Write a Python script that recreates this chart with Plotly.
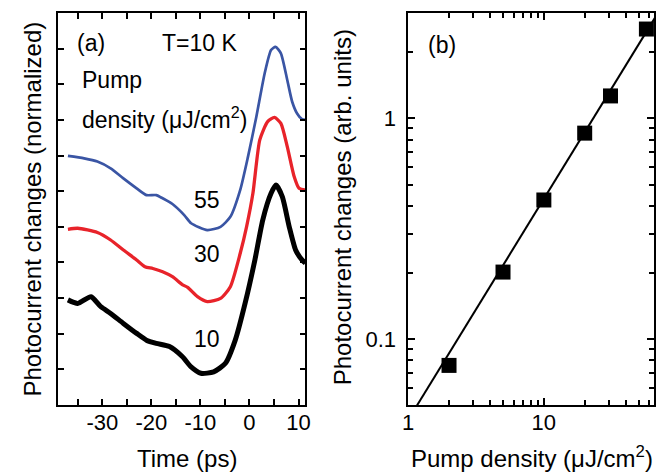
import plotly.graph_objects as go

# ---------------- data: panel (a) ----------------
t_blue = [-37, -33.7, -31, -28.3, -25.7, -23, -21, -19, -17.7, -15.7, -13.3, -11.9, -8.6, -5.9, -3.9,
          -1.9, -0.3, 1.4, 3.1, 4.4, 5.3, 6.4, 7.7, 8.7, 9.7, 10.7, 11.4]
y_blue = [6.99, 6.92, 6.83, 6.64, 6.36, 6.08, 5.89, 5.89, 5.80, 5.64, 5.33, 5.10, 4.91, 5.00, 5.28,
          6.03, 6.97, 8.09, 9.31, 9.96, 10.05, 9.87, 9.12, 8.51, 8.18, 8.02, 8.00]

t_red = [-37, -35, -31, -28.3, -25.7, -23, -21.3, -19.7, -17.7, -15.7, -13.7, -12.6, -10.6, -8.6, -5.9,
         -3.9, -1.9, -0.6, 0.7, 2.1, 3.7, 5.1, 6.4, 7.7, 9.1, 10.1, 11.4]
y_red = [4.93, 4.96, 4.84, 4.63, 4.35, 4.07, 3.88, 3.83, 3.74, 3.60, 3.38, 3.30, 3.04, 2.90, 2.99,
         3.32, 4.25, 5.00, 5.94, 7.44, 7.95, 8.07, 7.90, 7.25, 6.41, 6.08, 6.03]

t_black = [-37, -35, -32.3, -30.3, -28.3, -25.7, -23, -21, -19, -16.3, -13.7, -11.9, -9.9, -7.3, -4.9,
           -2.9, -0.9, 1.1, 2.7, 4.4, 5.4, 6.7, 8.1, 9.4, 10.7, 11.4]
y_black = [2.95, 2.85, 3.04, 2.76, 2.57, 2.29, 2.01, 1.82, 1.73, 1.64, 1.36, 1.07, 0.89, 0.93, 1.17,
           1.82, 2.85, 4.07, 5.19, 5.94, 6.17, 5.84, 5.00, 4.35, 4.07, 3.98]

labels_a = ["55", "30", "10"]
label_pos_t = [-8.7, -8.7, -8.7]
label_pos_y = [5.75, 4.24, 1.85]

time_ticks = [-30, -20, -10, 0, 10]
time_minor = [-35, -25, -15, -5, 5]

# ---------------- data: panel (b) ----------------
pump_density = [2, 5, 10, 20, 31, 57]
photocurrent = [0.076, 0.201, 0.426, 0.855, 1.26, 2.53]
fit_x = [1.0, 70.0]
fit_y = [0.0431, 3.02]

FONT = "Liberation Sans, Arial, Helvetica, sans-serif"

fig = go.Figure()

fig.add_trace(go.Scatter(x=t_black, y=y_black, mode="lines",
                         line=dict(color="black", width=5, shape="spline", smoothing=0.6),
                         xaxis="x", yaxis="y", showlegend=False))
fig.add_trace(go.Scatter(x=t_red, y=y_red, mode="lines",
                         line=dict(color="#e8232a", width=3.3, shape="spline", smoothing=0.6),
                         xaxis="x", yaxis="y", showlegend=False))
fig.add_trace(go.Scatter(x=t_blue, y=y_blue, mode="lines",
                         line=dict(color="#3a55a4", width=2.7, shape="spline", smoothing=0.6),
                         xaxis="x", yaxis="y", showlegend=False))

fig.add_trace(go.Scatter(x=fit_x, y=fit_y, mode="lines",
                         line=dict(color="black", width=2),
                         xaxis="x2", yaxis="y2", showlegend=False))
fig.add_trace(go.Scatter(x=pump_density, y=photocurrent, mode="markers",
                         marker=dict(symbol="square", size=15, color="black"),
                         xaxis="x2", yaxis="y2", showlegend=False, cliponaxis=False))

W, H = 660, 472
axis_common = dict(showline=True, linecolor="black", linewidth=1.5, mirror="allticks",
                   ticks="inside", tickcolor="black", tickwidth=1.5, showgrid=False,
                   zeroline=False, tickfont=dict(family=FONT, size=22, color="black"))

fig.update_layout(
    width=W, height=H, margin=dict(l=0, r=0, t=0, b=0),
    paper_bgcolor="white", plot_bgcolor="white",
    font=dict(family=FONT, color="black"),
    xaxis=dict(domain=[53 / W, 304.5 / W], range=[-39, 11.4], tickvals=time_ticks,
               ticktext=[str(v) for v in time_ticks], ticklen=6,
               minor=dict(tickvals=time_minor, ticks="inside", ticklen=6, tickwidth=1.5,
                          tickcolor="black"),
               anchor="y", ticklabelstandoff=-3, **axis_common),
    yaxis=dict(domain=[(H - 405) / H, (H - 13) / H], range=[0, 11],
               tickvals=list(range(1, 11)), showticklabels=False, ticklen=6,
               anchor="x", **axis_common),
    xaxis2=dict(domain=[409 / W, 659 / W], type="log", range=[0, 1.812],
                tickvals=[1, 10], ticktext=["1", "10"], ticklen=7,
                minor=dict(tickvals=[2, 3, 4, 5, 6, 7, 8, 9, 20, 30, 40, 50, 60],
                           ticks="inside", ticklen=5, tickwidth=1.5, tickcolor="black"),
                anchor="y2", ticklabelstandoff=-3, **axis_common),
    yaxis2=dict(domain=[(H - 405) / H, (H - 13) / H], type="log", range=[-1.2984, 0.4757],
                tickvals=[0.1, 1], ticktext=["0.1", "1"], ticklen=7,
                minor=dict(tickvals=[0.05, 0.06, 0.07, 0.08, 0.09, 0.2, 0.3, 0.4, 0.5, 0.6,
                                     0.7, 0.8, 0.9, 2],
                           ticks="inside", ticklen=5, tickwidth=1.5, tickcolor="black"),
                anchor="x2", ticklabelstandoff=6, **axis_common),
)

ann_font = dict(family=FONT, size=23, color="black")
title_font = dict(family=FONT, size=24, color="black")
C = dict(xanchor="center", yanchor="middle", showarrow=False)
annotations = [
    dict(x=-32.2, y=10.16, xref="x", yref="y", text="(a)", font=ann_font, **C),
    dict(x=-10.2, y=10.16, xref="x", yref="y", text="T=10 K", font=ann_font, **C),
    dict(x=-34.6, y=9.12, xref="x", yref="y", text="Pump", font=ann_font,
         xanchor="left", yanchor="middle", showarrow=False),
    dict(x=-34.6, y=8.05, xref="x", yref="y", text="density (\u03bcJ/cm<sup>2</sup>)",
         font=ann_font, xanchor="left", yanchor="middle", showarrow=False),
    dict(x=443 / W, y=1 - 45 / H, xref="paper", yref="paper", text="(b)", font=ann_font, **C),
    # axis titles
    dict(x=184 / W, y=1 - 458 / H, xref="paper", yref="paper", text="Time (ps)",
         font=title_font, **C),
    dict(x=535 / W, y=1 - 457 / H, xref="paper", yref="paper",
         text="Pump density (\u03bcJ/cm<sup>2</sup>)", font=title_font, **C),
    dict(x=26 / W, y=1 - 209 / H, xref="paper", yref="paper",
         text="Photocurrent changes (normalized)", textangle=-90, font=title_font, **C),
    dict(x=342 / W, y=1 - 207 / H, xref="paper", yref="paper",
         text="Photocurrent changes (arb. units)", textangle=-90, font=title_font, **C),
]
for lab, tx, ty in zip(labels_a, label_pos_t, label_pos_y):
    annotations.append(dict(x=tx, y=ty, xref="x", yref="y", text=lab, font=ann_font, **C))
fig.update_layout(annotations=annotations)

fig.write_html("out.html")
